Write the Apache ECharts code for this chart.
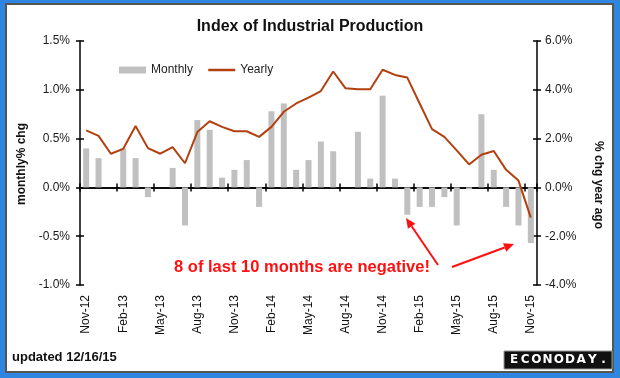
<!DOCTYPE html>
<html>
<head>
<meta charset="utf-8">
<script src="https://cdn.jsdelivr.net/npm/echarts@6.0.0/dist/echarts.min.js"></script>
<style>
html,body{margin:0;padding:0;background:#2f86e0;}
#chart{width:620px;height:378px;}
</style>
</head>
<body>
<div id="chart"></div>
<script>
const categories = ['Nov-12','Dec-12','Jan-13','Feb-13','Mar-13','Apr-13','May-13','Jun-13','Jul-13','Aug-13','Sep-13','Oct-13',
  'Nov-13','Dec-13','Jan-14','Feb-14','Mar-14','Apr-14','May-14','Jun-14','Jul-14','Aug-14','Sep-14','Oct-14',
  'Nov-14','Dec-14','Jan-15','Feb-15','Mar-15','Apr-15','May-15','Jun-15','Jul-15','Aug-15','Sep-15','Oct-15','Nov-15'];
const monthly = [0.40,0.30,0.00,0.40,0.30,-0.10,0.00,0.20,-0.39,0.69,0.59,0.10,
  0.18,0.28,-0.20,0.78,0.86,0.18,0.28,0.47,0.37,0.00,0.57,0.09,
  0.94,0.09,-0.28,-0.20,-0.20,-0.10,-0.39,-0.02,0.75,0.18,-0.20,-0.39,-0.57];
const yearly = [2.34,2.11,1.38,1.58,2.52,1.61,1.38,1.65,0.99,2.27,2.71,2.48,
  2.30,2.30,2.07,2.48,3.10,3.44,3.68,3.95,4.75,4.06,4.02,4.02,
  4.82,4.61,4.50,3.44,2.39,2.07,1.52,0.94,1.34,1.49,0.72,0.28,-1.24];
const leftAxis = {min: -1, max: 1.5, interval: 0.5};
const rightAxis = {min: -4, max: 6, interval: 2};
const seriesNames = ['Monthly', 'Yearly'];

const FONT = 'Liberation Sans, Arial, sans-serif';
const chart = echarts.init(document.getElementById('chart'), null, {renderer: 'canvas'});

function arrow(x1, y1, x2, y2) {
  const ang = Math.atan2(y2 - y1, x2 - x1);
  const L = 10, W = 4.5;
  const bx = x2 - L * Math.cos(ang), by = y2 - L * Math.sin(ang);
  const px = -Math.sin(ang) * W, py = Math.cos(ang) * W;
  return [
    {type: 'line', z: 50, shape: {x1: x1, y1: y1, x2: bx, y2: by}, style: {stroke: '#ff1010', lineWidth: 2}},
    {type: 'polygon', z: 50, shape: {points: [[x2, y2], [bx + px, by + py], [bx - px, by - py]]}, style: {fill: '#ff1010'}}
  ];
}

const logo = 'ECONODAY.';
const logoEls = [];
for (let i = 0; i < logo.length; i++) {
  logoEls.push({type: 'text', z: 51, x: 514 + i * 11.2, y: 360,
    style: {text: logo[i], fill: '#fff', font: 'bold 12px DejaVu Sans, ' + FONT, align: 'center', verticalAlign: 'middle'}});
}

const tickStyle = {color: '#000', width: 1.5};
const option = {
  backgroundColor: '#2f86e0',
  animation: false,
  title: {
    text: 'Index of Industrial Production', left: 'center', top: 14,
    textStyle: {fontFamily: FONT, fontWeight: 'bold', fontSize: 16, color: '#111'}
  },
  legend: {
    left: 114, top: 59, itemWidth: 27, itemHeight: 7, itemGap: 14,
    textStyle: {fontFamily: FONT, fontSize: 12, color: '#222'},
    data: [
      {name: seriesNames[0], icon: 'rect'},
      {name: seriesNames[1], itemStyle: {opacity: 0}, lineStyle: {width: 2.5}}
    ]
  },
  grid: {left: 80, right: 83, top: 41, bottom: 93},
  xAxis: [
    {type: 'category', data: categories, position: 'bottom',
     axisLine: {show: false, onZero: false}, axisTick: {show: false}, splitLine: {show: false},
     axisLabel: {interval: 2, rotate: 90, margin: 10, fontSize: 12, fontFamily: FONT, color: '#111'}},
    {type: 'category', data: categories, position: 'bottom',
     axisLine: {onZero: true, onZeroAxisIndex: 0, lineStyle: tickStyle},
     axisTick: {show: true, interval: 2, length: 4, lineStyle: tickStyle},
     axisLabel: {show: false}, splitLine: {show: false}},
    {type: 'category', data: categories, position: 'bottom',
     axisLine: {onZero: true, onZeroAxisIndex: 0, lineStyle: tickStyle},
     axisTick: {show: true, inside: true, interval: 2, length: 4, lineStyle: tickStyle},
     axisLabel: {show: false}, splitLine: {show: false}}
  ],
  yAxis: [
    {type: 'value', position: 'left', min: leftAxis.min, max: leftAxis.max, interval: leftAxis.interval,
     axisLine: {show: true, lineStyle: tickStyle}, axisTick: {show: true, length: 4, lineStyle: tickStyle},
     splitLine: {show: false},
     axisLabel: {margin: 10, fontSize: 12, fontFamily: FONT, color: '#1a1a1a', formatter: v => v.toFixed(1) + '%'}},
    {type: 'value', position: 'right', min: rightAxis.min, max: rightAxis.max, interval: rightAxis.interval,
     axisLine: {show: true, lineStyle: tickStyle}, axisTick: {show: true, length: 4, lineStyle: tickStyle},
     splitLine: {show: false},
     axisLabel: {margin: 8, fontSize: 12, fontFamily: FONT, color: '#1a1a1a', formatter: v => v.toFixed(1) + '%'}},
    {type: 'value', position: 'left', min: leftAxis.min, max: leftAxis.max, interval: leftAxis.interval,
     axisLine: {show: false}, axisTick: {show: true, inside: true, length: 4, lineStyle: tickStyle},
     splitLine: {show: false}, axisLabel: {show: false}},
    {type: 'value', position: 'right', min: rightAxis.min, max: rightAxis.max, interval: rightAxis.interval,
     axisLine: {show: false}, axisTick: {show: true, inside: true, length: 4, lineStyle: tickStyle},
     splitLine: {show: false}, axisLabel: {show: false}}
  ],
  series: [
    {name: seriesNames[0], type: 'bar', data: monthly, xAxisIndex: 0, yAxisIndex: 0, barWidth: 6,
     itemStyle: {color: '#c0c0c0'}, z: 1},
    {name: seriesNames[1], type: 'line', data: yearly, xAxisIndex: 0, yAxisIndex: 1, symbol: 'none',
     lineStyle: {color: '#b3400f', width: 2}, itemStyle: {color: '#b3400f'}, z: 3}
  ],
  graphic: [
    {type: 'rect', z: -10, shape: {x: 6, y: 4, width: 607, height: 368},
     style: {fill: '#fff', stroke: '#555', lineWidth: 2}},
    {type: 'text', z: 50, x: 22, y: 164, rotation: Math.PI / 2,
     style: {text: 'monthly% chg', font: 'bold 12px ' + FONT, fill: '#111', align: 'center', verticalAlign: 'middle'}},
    {type: 'text', z: 50, x: 598, y: 185, rotation: -Math.PI / 2,
     style: {text: '% chg year ago', font: 'bold 12px ' + FONT, fill: '#111', align: 'center', verticalAlign: 'middle'}},
    {type: 'text', z: 50, x: 302, y: 267,
     style: {text: '8 of last 10 months are negative!', font: 'bold 16.5px ' + FONT, fill: '#ff1010', align: 'center', verticalAlign: 'middle'}},
    ...arrow(438, 265, 406, 218),
    ...arrow(452, 267, 514, 244),
    {type: 'text', z: 50, x: 12, y: 357,
     style: {text: 'updated 12/16/15', font: 'bold 13px ' + FONT, fill: '#111', align: 'left', verticalAlign: 'middle'}},
    {type: 'rect', z: 50, shape: {x: 504, y: 351, width: 108, height: 18},
     style: {fill: '#111', stroke: '#999', lineWidth: 1}},
    ...logoEls
  ]
};
chart.setOption(option);
</script>
</body>
</html>
